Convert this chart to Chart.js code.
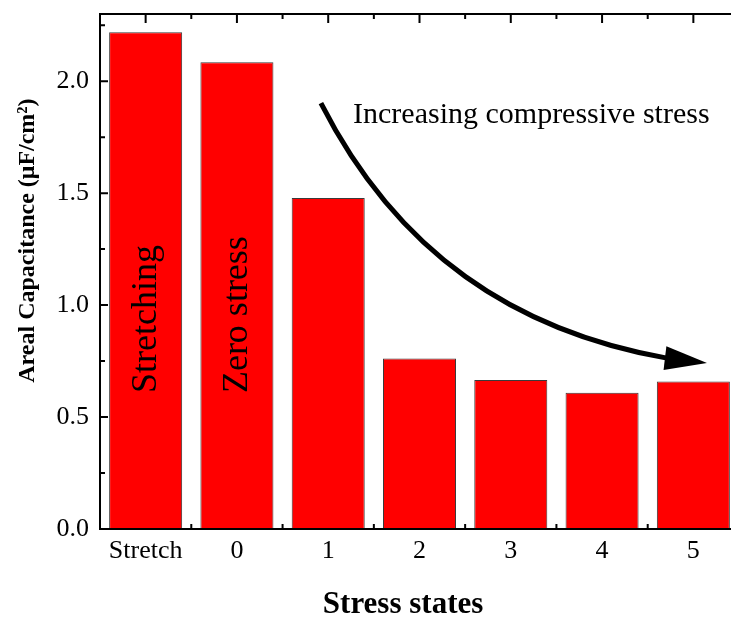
<!DOCTYPE html>
<html>
<head>
<meta charset="utf-8">
<title>Areal capacitance vs. stress state</title>
<script src="https://cdn.jsdelivr.net/npm/chart.js@4.4.1/dist/chart.umd.min.js"></script>
<style>
  html, body { margin: 0; padding: 0; background: #fff; overflow: hidden; width: 731px; height: 617px; }
  canvas { display: block; }
</style>
</head>
<body>
<canvas id="chart" width="740" height="617"></canvas>
<script>
// Categories and measured areal capacitance (µF/cm²)
const stressStates = ['Stretch', '0', '1', '2', '3', '4', '5'];
const arealCapacitance = [2.218, 2.085, 1.478, 0.761, 0.665, 0.608, 0.659];

// Axis ticks
const yTickValues = [0, 0.5, 1.0, 1.5, 2.0];
const yMinorValues = [0.25, 0.75, 1.25, 1.75, 2.25];

// Text written inside bars
const barNoteIndex = [0, 1];
const barNoteText = ['Stretching', 'Zero stress'];

const SERIF = '"Liberation Serif", "Times New Roman", Times, serif';

// Frame, inward ticks, annotations and axis titles
const decorations = {
  id: 'decorations',
  beforeDraw(chart) {
    const { ctx, width, height } = chart;
    ctx.save();
    ctx.fillStyle = '#ffffff';
    ctx.fillRect(0, 0, width, height);
    ctx.restore();
  },
  beforeDatasetsDraw(chart) {
    const { ctx, chartArea: a, scales: { x, y } } = chart;
    ctx.save();
    ctx.strokeStyle = '#000';
    ctx.lineWidth = 2;
    ctx.beginPath();
    yTickValues.forEach(v => {
      const py = y.getPixelForValue(v);
      ctx.moveTo(a.left, py); ctx.lineTo(a.left + 8, py);
      ctx.moveTo(a.right, py); ctx.lineTo(a.right - 8, py);
    });
    yMinorValues.forEach(v => {
      const py = y.getPixelForValue(v);
      ctx.moveTo(a.left, py); ctx.lineTo(a.left + 5, py);
      ctx.moveTo(a.right, py); ctx.lineTo(a.right - 5, py);
    });
    stressStates.forEach((_, i) => {
      const px = x.getPixelForValue(i);
      ctx.moveTo(px, a.top); ctx.lineTo(px, a.top + 9);
      ctx.moveTo(px, a.bottom); ctx.lineTo(px, a.bottom - 9);
      if (i > 0) {
        const pb = x.getPixelForValue(i - 0.5);
        ctx.moveTo(pb, a.top); ctx.lineTo(pb, a.top + 5);
        ctx.moveTo(pb, a.bottom); ctx.lineTo(pb, a.bottom - 5);
      }
    });
    ctx.stroke();
    ctx.restore();
  },
  afterDatasetsDraw(chart) {
    const { ctx, chartArea: a, scales: { x, y } } = chart;
    ctx.save();

    // plot frame
    ctx.strokeStyle = '#000';
    ctx.lineWidth = 2;
    ctx.strokeRect(a.left, a.top, a.right - a.left, a.bottom - a.top);

    // rotated notes inside the first two bars
    ctx.fillStyle = '#000';
    ctx.font = '36px ' + SERIF;
    ctx.textAlign = 'left';
    ctx.textBaseline = 'middle';
    barNoteIndex.forEach((idx, k) => {
      ctx.save();
      ctx.translate(x.getPixelForValue(idx) + 1, y.getPixelForValue(0.607));
      ctx.rotate(-Math.PI / 2);
      ctx.fillText(barNoteText[k], 0, 0);
      ctx.restore();
    });

    // trend annotation
    ctx.font = '30px ' + SERIF;
    ctx.textBaseline = 'alphabetic';
    ctx.fillText('Increasing compressive stress', x.getPixelForValue(2.272), y.getPixelForValue(1.813));

    // curved trend arrow (cubic Bézier in data coordinates)
    const curve = [[1.92, 1.902], [2.754, 1.234], [4.046, 0.883], [5.689, 0.763]];
    const tipAt = [6.149, 0.741];
    const P = curve.map(([vx, vy]) => [x.getPixelForValue(vx), y.getPixelForValue(vy)]);
    const T = [x.getPixelForValue(tipAt[0]), y.getPixelForValue(tipAt[1])];
    ctx.lineWidth = 5;
    ctx.lineCap = 'butt';
    ctx.beginPath();
    ctx.moveTo(P[0][0], P[0][1]);
    ctx.bezierCurveTo(P[1][0], P[1][1], P[2][0], P[2][1], P[3][0] + 2, P[3][1]);
    ctx.stroke();
    const B = P[3];
    let dx = T[0] - B[0], dy = T[1] - B[1];
    const len = Math.hypot(dx, dy); dx /= len; dy /= len;
    const hw = 12;
    ctx.beginPath();
    ctx.moveTo(T[0], T[1]);
    ctx.lineTo(B[0] - dy * hw, B[1] + dx * hw);
    ctx.lineTo(B[0] + dy * hw, B[1] - dx * hw);
    ctx.closePath();
    ctx.fill();

    // axis titles
    ctx.font = 'bold 31px ' + SERIF;
    ctx.textAlign = 'center';
    ctx.textBaseline = 'alphabetic';
    ctx.fillText('Stress states', x.getPixelForValue(2.82), a.bottom + 84);

    ctx.save();
    ctx.font = 'bold 24px ' + SERIF;
    ctx.textBaseline = 'middle';
    ctx.translate(a.left - 72, y.getPixelForValue(1.288));
    ctx.rotate(-Math.PI / 2);
    ctx.fillText('Areal Capacitance (\u03bcF/cm\u00b2)', 0, 0);
    ctx.restore();

    ctx.restore();
  }
};

new Chart(document.getElementById('chart'), {
  type: 'bar',
  data: {
    labels: stressStates,
    datasets: [{
      label: 'Areal Capacitance',
      data: arealCapacitance,
      backgroundColor: '#ff0000',
      borderColor: '#3a3a3a',
      borderWidth: 1,
      barPercentage: 0.8,
      categoryPercentage: 1.0
    }]
  },
  options: {
    responsive: false,
    animation: false,
    events: [],
    layout: { padding: { top: 14, right: 1, left: 0, bottom: 0 } },
    plugins: { legend: { display: false }, tooltip: { enabled: false } },
    scales: {
      x: {
        grid: { display: false, drawTicks: false },
        border: { display: true, color: '#000', width: 2 },
        ticks: { color: '#000', font: { family: SERIF, size: 26 }, padding: 7, maxRotation: 0, autoSkip: false },
        afterFit(scale) {
          scale.height = 88;
          scale.paddingLeft = 0;
          scale.paddingRight = 0;
        }
      },
      y: {
        min: 0,
        max: 2.3,
        grid: { display: false, drawTicks: false },
        border: { display: true, color: '#000', width: 2 },
        ticks: {
          color: '#000',
          font: { family: SERIF, size: 26 },
          padding: 11,
          callback: v => Number(v).toFixed(1)
        },
        afterBuildTicks(scale) { scale.ticks = yTickValues.map(v => ({ value: v })); },
        afterFit(scale) {
          scale.width = 100;
          scale.paddingTop = 0;
          scale.paddingBottom = 0;
        }
      }
    }
  },
  plugins: [decorations]
});
</script>
</body>
</html>
